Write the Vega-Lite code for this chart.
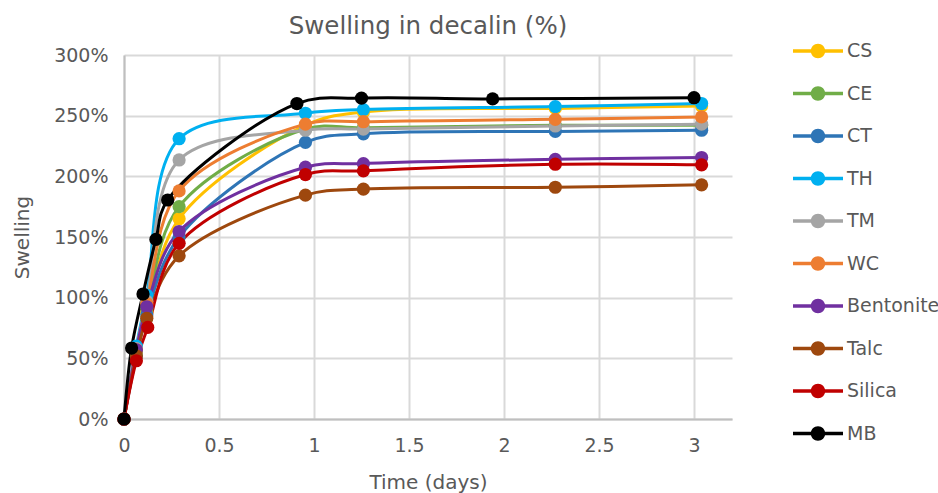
{
  "$schema": "https://vega.github.io/schema/vega-lite/v6.json",
  "width": 608,
  "height": 364,
  "autosize": "none",
  "padding": {"left": 124, "top": 55, "right": 206, "bottom": 74},
  "background": "white",
  "config": {
    "font": "DejaVu Sans",
    "view": {"stroke": null}
  },
  "title": {
    "text": "Swelling in decalin (%)",
    "fontSize": 24.5,
    "fontWeight": "normal",
    "color": "#595959",
    "anchor": "middle",
    "offset": -13
  },
  "data": {
    "values": [
      {"series": "CS", "t": 0, "s": 0},
      {"series": "CS", "t": 0.065, "s": 55},
      {"series": "CS", "t": 0.12, "s": 88},
      {"series": "CS", "t": 0.29, "s": 165},
      {"series": "CS", "t": 0.955, "s": 242},
      {"series": "CS", "t": 1.26, "s": 253},
      {"series": "CS", "t": 2.27, "s": 256},
      {"series": "CS", "t": 3.04, "s": 258},
      {"series": "CE", "t": 0, "s": 0},
      {"series": "CE", "t": 0.065, "s": 56},
      {"series": "CE", "t": 0.12, "s": 91},
      {"series": "CE", "t": 0.29, "s": 175},
      {"series": "CE", "t": 0.955, "s": 239},
      {"series": "CE", "t": 1.26, "s": 240},
      {"series": "CE", "t": 2.27, "s": 242},
      {"series": "CE", "t": 3.04, "s": 242},
      {"series": "CT", "t": 0, "s": 0},
      {"series": "CT", "t": 0.065, "s": 52},
      {"series": "CT", "t": 0.12, "s": 86},
      {"series": "CT", "t": 0.29, "s": 150},
      {"series": "CT", "t": 0.955, "s": 228},
      {"series": "CT", "t": 1.26, "s": 235},
      {"series": "CT", "t": 2.27, "s": 237},
      {"series": "CT", "t": 3.04, "s": 238},
      {"series": "TH", "t": 0, "s": 0},
      {"series": "TH", "t": 0.065, "s": 60},
      {"series": "TH", "t": 0.12, "s": 102},
      {"series": "TH", "t": 0.29, "s": 231},
      {"series": "TH", "t": 0.955, "s": 252},
      {"series": "TH", "t": 1.26, "s": 255},
      {"series": "TH", "t": 2.27, "s": 257.5},
      {"series": "TH", "t": 3.04, "s": 260},
      {"series": "TM", "t": 0, "s": 0},
      {"series": "TM", "t": 0.065, "s": 58},
      {"series": "TM", "t": 0.12, "s": 97},
      {"series": "TM", "t": 0.29, "s": 213.5},
      {"series": "TM", "t": 0.955, "s": 238},
      {"series": "TM", "t": 1.26, "s": 239},
      {"series": "TM", "t": 2.27, "s": 241.5},
      {"series": "TM", "t": 3.04, "s": 243},
      {"series": "WC", "t": 0, "s": 0},
      {"series": "WC", "t": 0.065, "s": 57},
      {"series": "WC", "t": 0.12, "s": 95},
      {"series": "WC", "t": 0.29, "s": 188},
      {"series": "WC", "t": 0.955, "s": 243},
      {"series": "WC", "t": 1.26, "s": 245},
      {"series": "WC", "t": 2.27, "s": 247},
      {"series": "WC", "t": 3.04, "s": 249},
      {"series": "Bentonite", "t": 0, "s": 0},
      {"series": "Bentonite", "t": 0.065, "s": 57},
      {"series": "Bentonite", "t": 0.12, "s": 92.5},
      {"series": "Bentonite", "t": 0.29, "s": 154.5},
      {"series": "Bentonite", "t": 0.955, "s": 207.5},
      {"series": "Bentonite", "t": 1.26, "s": 210.5},
      {"series": "Bentonite", "t": 2.27, "s": 214},
      {"series": "Bentonite", "t": 3.04, "s": 215.5},
      {"series": "Talc", "t": 0, "s": 0},
      {"series": "Talc", "t": 0.065, "s": 52},
      {"series": "Talc", "t": 0.12, "s": 83},
      {"series": "Talc", "t": 0.29, "s": 134.5},
      {"series": "Talc", "t": 0.955, "s": 184.5},
      {"series": "Talc", "t": 1.26, "s": 189.5},
      {"series": "Talc", "t": 2.27, "s": 191},
      {"series": "Talc", "t": 3.04, "s": 193},
      {"series": "Silica", "t": 0, "s": 0},
      {"series": "Silica", "t": 0.065, "s": 48},
      {"series": "Silica", "t": 0.125, "s": 75.5},
      {"series": "Silica", "t": 0.29, "s": 144.8},
      {"series": "Silica", "t": 0.955, "s": 201.5},
      {"series": "Silica", "t": 1.26, "s": 204.5},
      {"series": "Silica", "t": 2.27, "s": 210},
      {"series": "Silica", "t": 3.04, "s": 209.5},
      {"series": "MB", "t": 0, "s": 0},
      {"series": "MB", "t": 0.04, "s": 58.5},
      {"series": "MB", "t": 0.1, "s": 103},
      {"series": "MB", "t": 0.168, "s": 148},
      {"series": "MB", "t": 0.23, "s": 180.5},
      {"series": "MB", "t": 0.91, "s": 260},
      {"series": "MB", "t": 1.25, "s": 264.5},
      {"series": "MB", "t": 1.94, "s": 263.8},
      {"series": "MB", "t": 3.0, "s": 264.8}
    ]
  },
  "encoding": {
    "x": {
      "field": "t",
      "type": "quantitative",
      "scale": {"domain": [0, 3.2], "nice": false, "zero": false},
      "axis": {
        "title": "Time (days)",
        "values": [0, 0.5, 1, 1.5, 2, 2.5, 3],
        "labelExpr": "datum.value == 0 ? '0' : format(datum.value, '.2~f')",
        "labelFlush": false,
        "labelFontSize": 19,
        "labelColor": "#595959",
        "labelPadding": 17,
        "ticks": false,
        "titleFontSize": 20,
        "titleFontWeight": "normal",
        "titleColor": "#595959",
        "titlePadding": 17,
        "domainColor": "#bfbfbf",
        "domainWidth": 2,
        "gridColor": "#d9d9d9",
        "gridWidth": 2
      }
    },
    "y": {
      "field": "s",
      "type": "quantitative",
      "scale": {"domain": [0, 300], "nice": false},
      "axis": {
        "title": "Swelling",
        "values": [0, 50, 100, 150, 200, 250, 300],
        "labelExpr": "datum.value + '%'",
        "labelFlush": false,
        "labelFontSize": 19,
        "labelColor": "#595959",
        "labelPadding": 16,
        "ticks": false,
        "titleFontSize": 20,
        "titleFontWeight": "normal",
        "titleColor": "#595959",
        "titlePadding": 21,
        "domain": true,
        "domainColor": "#bfbfbf",
        "domainWidth": 2,
        "gridColor": "#d9d9d9",
        "gridWidth": 2
      }
    },
    "color": {
      "field": "series",
      "type": "nominal",
      "scale": {
        "domain": ["CS", "CE", "CT", "TH", "TM", "WC", "Bentonite", "Talc", "Silica", "MB"],
        "range": ["#FFC000", "#70AD47", "#2E75B6", "#00B0F0", "#A5A5A5", "#ED7D31", "#7030A0", "#9E480E", "#C00000", "#000000"]
      },
      "legend": {
        "title": null,
        "orient": "none",
        "legendX": 669,
        "legendY": -29,
        "padding": 0,
        "symbolType": "M-1,-0.07H1V0.07H-1Z M0.29,0A0.29,0.29 0 1,1 -0.29,0A0.29,0.29 0 1,1 0.29,0Z",
        "symbolSize": 2500,
        "symbolStrokeWidth": 0,
        "labelFontSize": 19,
        "labelColor": "#595959",
        "labelOffset": 4,
        "rowPadding": 7.5,
        "encode": {
          "symbols": {
            "update": {
              "fill": {"scale": "color", "field": "value"},
              "stroke": {"value": "transparent"},
              "opacity": {"value": 1}
            }
          }
        }
      }
    }
  },
  "layer": [
    {
      "mark": {"type": "line", "interpolate": "catmull-rom", "strokeWidth": 3},
      "encoding": {"detail": {"field": "series"}}
    },
    {
      "mark": {"type": "point", "shape": "circle", "filled": true, "opacity": 1, "size": 175}
    }
  ]
}
